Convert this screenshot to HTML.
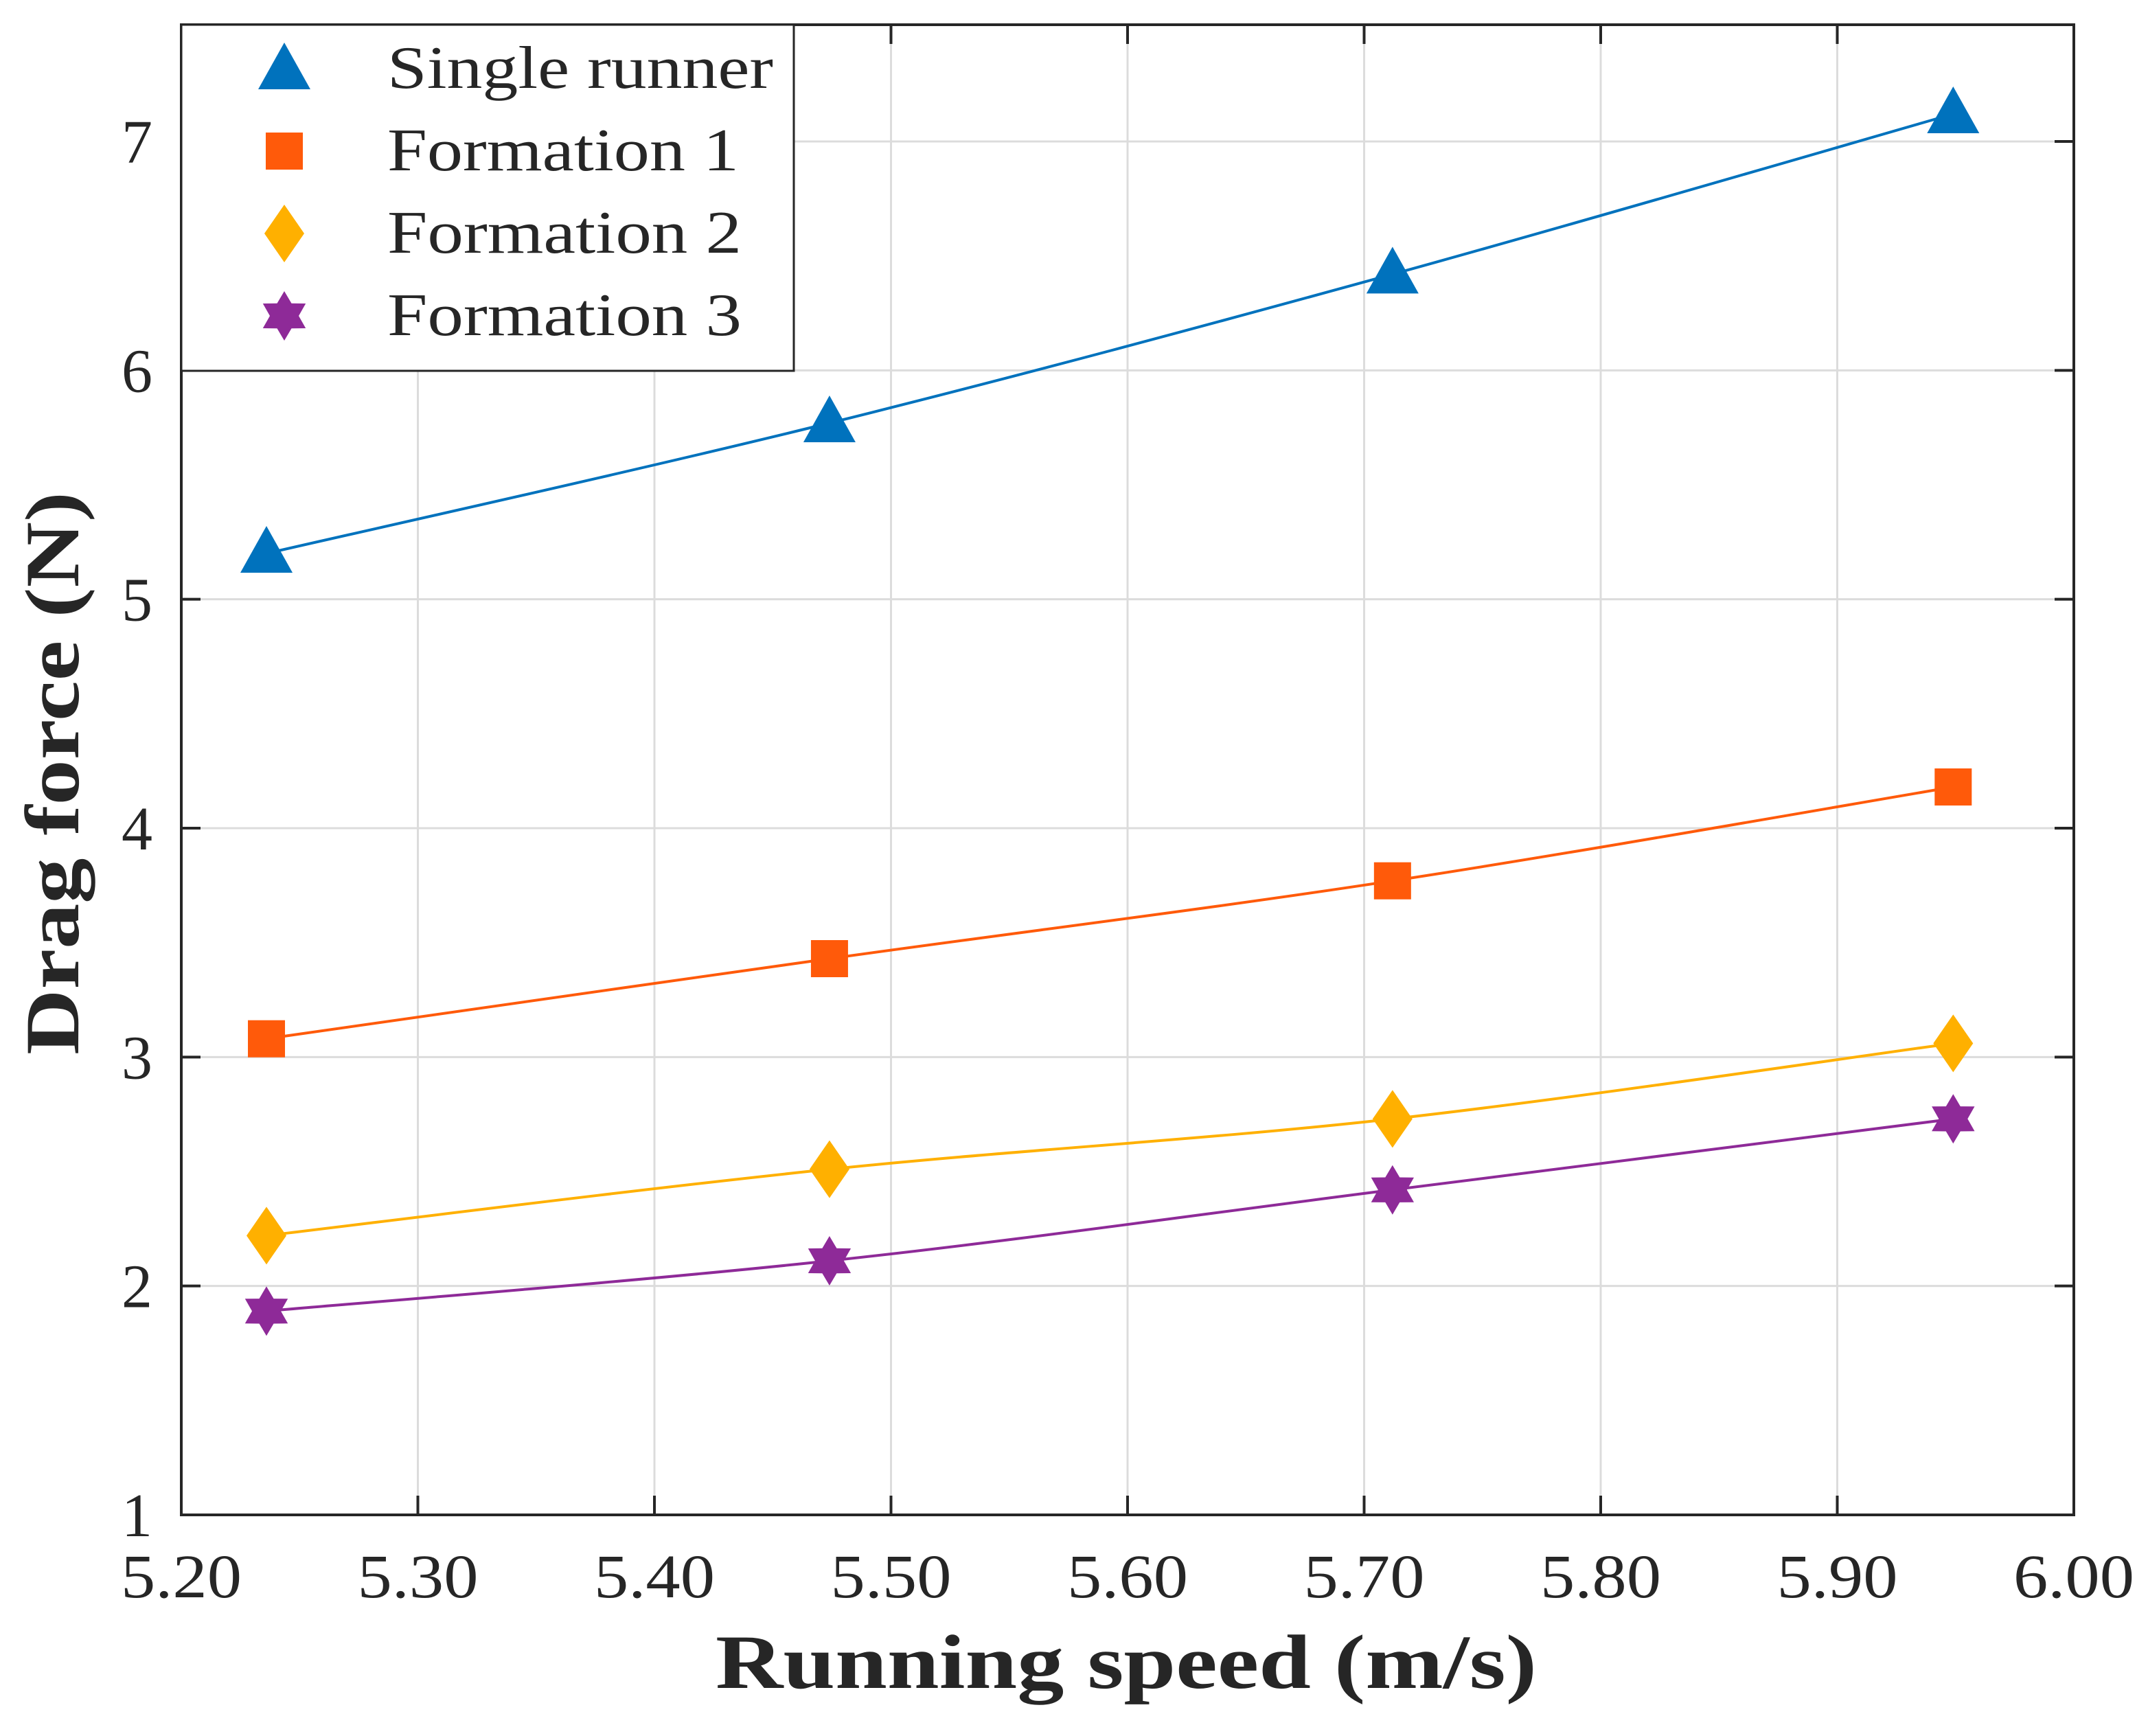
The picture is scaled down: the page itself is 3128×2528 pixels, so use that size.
<!DOCTYPE html>
<html><head><meta charset="utf-8"><style>
html,body{margin:0;padding:0;background:#fff}
svg{display:block}
text{font-family:"Liberation Serif",serif;fill:#262626}
</style></head><body>
<svg id="chart" width="3128" height="2528" viewBox="0 0 3128 2528" xmlns="http://www.w3.org/2000/svg">
<g id="grid"></g>
<g id="lines"></g>
<g id="axes"></g>
<g id="marks"></g>
<g id="legend"></g>
<text x="1640" y="2458" font-size="112" font-weight="bold" text-anchor="middle" textLength="1196" lengthAdjust="spacingAndGlyphs">Running speed (m/s)</text>
<text transform="translate(114,1126) rotate(-90)" font-size="112" font-weight="bold" text-anchor="middle" textLength="820" lengthAdjust="spacingAndGlyphs">Drag force (N)</text>
</svg>
<script>
const speeds=[5.236,5.474,5.712,5.949];
const single=[5.20,5.77,6.42,7.12];
const form1=[3.08,3.43,3.77,4.18];
const form2=[2.22,2.51,2.73,3.06];
const form3=[1.89,2.11,2.42,2.73];
const xTicks=[5.2,5.3,5.4,5.5,5.6,5.7,5.8,5.9,6.0];
const xTickLabels=["5.20","5.30","5.40","5.50","5.60","5.70","5.80","5.90","6.00"];
const yTicks=[1,2,3,4,5,6,7];
const seriesNames=["Single runner","Formation 1","Formation 2","Formation 3"];
const legendLens=[562,512,516,516];

const L=264,R=3020,T=36,B=2206;
const xMin=5.2,xMax=6.0,yMin=1,yMax=7.51;
const X=v=>L+(v-xMin)/(xMax-xMin)*(R-L);
const Y=v=>B-(v-yMin)/(yMax-yMin)*(B-T);
const NS="http://www.w3.org/2000/svg";
function mk(tag,attrs,parent){const e=document.createElementNS(NS,tag);for(const k in attrs)e.setAttribute(k,attrs[k]);parent.appendChild(e);return e;}
const grid=document.getElementById('grid'),axes=document.getElementById('axes'),lines=document.getElementById('lines'),marks=document.getElementById('marks'),legend=document.getElementById('legend');

xTicks.forEach((t,i)=>{
  const x=X(t);
  if(i>0&&i<xTicks.length-1){const g=mk('line',{x1:x,x2:x,y1:T,y2:B,stroke:'#dcdcdc','stroke-width':3},grid);
  }
  const a=mk('line',{x1:x,x2:x,y1:B,y2:B-28,stroke:'#262626','stroke-width':4},axes);
  
  const b=mk('line',{x1:x,x2:x,y1:T,y2:T+28,stroke:'#262626','stroke-width':4},axes);
  
  const tx=mk('text',{x:x,y:2326,'font-size':90,'text-anchor':'middle',textLength:176,lengthAdjust:'spacingAndGlyphs'},axes);tx.textContent=xTickLabels[i];
  
});
yTicks.forEach(t=>{
  const y=Y(t);
  if(t>1){const g=mk('line',{x1:L,x2:R,y1:y,y2:y,stroke:'#dcdcdc','stroke-width':3},grid);
  }
  const a=mk('line',{x1:L,x2:L+28,y1:y,y2:y,stroke:'#262626','stroke-width':4},axes);
  
  const b=mk('line',{x1:R,x2:R-28,y1:y,y2:y,stroke:'#262626','stroke-width':4},axes);
  
  const tx=mk('text',{x:222,y:y+31,'font-size':90,'text-anchor':'end'},axes);tx.textContent=String(t);
  
});
const box=mk('rect',{x:L,y:T,width:R-L,height:B-T,fill:'none',stroke:'#262626','stroke-width':4},axes);


const colors=['#0072BD','#FF5A0A','#FFB000','#8E2A98'];
const shapes=['tri','sq','dia','star'];
function marker(shape,cx,cy,c,parent,s){
  s=s||1;let e;
  if(shape==='tri'){e=mk('polygon',{points:`${cx},${cy-40*s} ${cx+38*s},${cy+28*s} ${cx-38*s},${cy+28*s}`,fill:c},parent);}
  else if(shape==='sq'){e=mk('rect',{x:cx-27*s,y:cy-27*s,width:54*s,height:54*s,fill:c},parent);}
  else if(shape==='dia'){e=mk('polygon',{points:`${cx},${cy-42*s} ${cx+29*s},${cy} ${cx},${cy+42*s} ${cx-29*s},${cy}`,fill:c},parent);}
  else{const r=36*s,ri=21*s;let p=[];for(let k=0;k<12;k++){const a=-Math.PI/2+k*Math.PI/6;const rr=k%2?ri:r;p.push((cx+rr*Math.cos(a)).toFixed(1)+','+(cy+rr*Math.sin(a)).toFixed(1));}
    e=mk('polygon',{points:p.join(' '),fill:c},parent);}
  return e;
}
function smooth(xs,ys){
  const P=xs.map((v,i)=>[X(v),Y(ys[i])]);let d=`M${P[0][0]},${P[0][1]}`;
  for(let i=0;i<P.length-1;i++){const p0=P[Math.max(0,i-1)],p1=P[i],p2=P[i+1],p3=P[Math.min(P.length-1,i+2)];
    const c1=[p1[0]+(p2[0]-p0[0])/6,p1[1]+(p2[1]-p0[1])/6],c2=[p2[0]-(p3[0]-p1[0])/6,p2[1]-(p3[1]-p1[1])/6];
    d+=` C${c1[0]},${c1[1]} ${c2[0]},${c2[1]} ${p2[0]},${p2[1]}`;}
  return d;
}
[single,form1,form2,form3].forEach((ys,si)=>{
  const ln=mk('path',{d:smooth(speeds,ys),fill:'none',stroke:colors[si],'stroke-width':4},lines);
  
  ys.forEach((v,i)=>{const m=marker(shapes[si],X(speeds[i]),Y(v),colors[si],marks);
    });
});
const lb=mk('rect',{x:L,y:T,width:892,height:504,fill:'#fff',stroke:'#262626','stroke-width':3},legend);

seriesNames.forEach((n,i)=>{
  const cy=100+i*120;
  const m=marker(shapes[i],414,cy+(i===0?2:0),colors[i],legend);
  
  const t=mk('text',{x:564,y:cy+28,'font-size':88,textLength:legendLens[i],lengthAdjust:'spacingAndGlyphs'},legend);t.textContent=n;
  
});
</script>
</body></html>
